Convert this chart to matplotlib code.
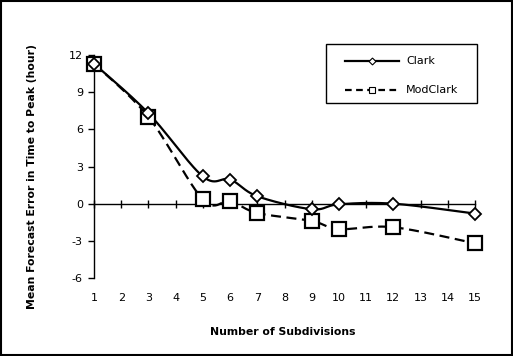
import numpy as np
import matplotlib
matplotlib.use('Agg')
import matplotlib.pyplot as plt
from matplotlib.lines import Line2D

# data
subdivisions = [1, 3, 5, 6, 7, 9, 10, 12, 15]
clark = [11.3, 7.3, 2.2, 1.95, 0.6, -0.45, -0.05, 0.0, -0.8]
modclark = [11.3, 7.0, 0.35, 0.2, -0.75, -1.4, -2.05, -1.9, -3.2]
yticks = [-6, -3, 0, 3, 6, 9, 12]
xticks = list(range(1, 16))
series_names = ['Clark', 'ModClark']


def smooth(xs, ys, n=30):
    # Excel-like smoothed line (bezier through the points)
    xs = np.asarray(xs, float)
    ys = np.asarray(ys, float)
    px = np.concatenate([[xs[0]], xs, [xs[-1]]])
    py = np.concatenate([[ys[0]], ys, [ys[-1]]])
    outx, outy = [], []
    t = np.linspace(0, 1, n)
    for i in range(1, len(px) - 2):
        p0 = np.array([px[i], py[i]])
        p3 = np.array([px[i + 1], py[i + 1]])
        p1 = p0 + (np.array([px[i + 1], py[i + 1]]) - np.array([px[i - 1], py[i - 1]])) / 6
        p2 = p3 - (np.array([px[i + 2], py[i + 2]]) - np.array([px[i], py[i]])) / 6
        b = ((1 - t) ** 3)[:, None] * p0 + (3 * (1 - t) ** 2 * t)[:, None] * p1 \
            + (3 * (1 - t) * t ** 2)[:, None] * p2 + (t ** 3)[:, None] * p3
        outx.extend(b[:, 0])
        outy.extend(b[:, 1])
    return outx, outy


W, H = 513, 356
plt.rcParams['font.family'] = ['DejaVu Sans']
plt.rcParams['axes.unicode_minus'] = False
fig = plt.figure(figsize=(W / 100, H / 100), dpi=100)

left, right, top, bottom = 94, 475, 55, 278
ax = fig.add_axes([left / W, 1 - bottom / H, (right - left) / W, (bottom - top) / H])
ax.set_xlim(1, 15)
ax.set_ylim(-6, 12)

sx, sy = smooth(subdivisions, clark)
ax.plot(sx, sy, color='black', lw=1.6, zorder=2, clip_on=False)
ax.plot(subdivisions, clark, ls='none', marker='D', ms=6.5, mfc='white', mec='black', mew=1.3,
        zorder=4, clip_on=False)

mx, my = smooth(subdivisions, modclark)
ax.plot(mx, my, color='black', lw=1.6, dashes=(4.5, 2.5), zorder=2, clip_on=False)
ax.plot(subdivisions, modclark, ls='none', marker='s', ms=9.5, mfc='white', mec='black', mew=1.6,
        zorder=3, clip_on=False)

for s in ['top', 'right']:
    ax.spines[s].set_visible(False)
ax.spines['bottom'].set_position(('data', 0))
ax.spines['bottom'].set_linewidth(1.0)
ax.spines['left'].set_linewidth(1.0)

ax.set_xticks(xticks)
ax.set_yticks(yticks)
ax.tick_params(axis='x', direction='inout', length=6, width=1, pad=61, labelsize=8)
ax.tick_params(axis='y', direction='out', length=4, width=1, pad=4, labelsize=8)
ax.patch.set_visible(False)

fig.text(283 / W, 1 - 332 / H, 'Number of Subdivisions', ha='center', va='center',
         fontsize=7.8, fontweight='bold')
fig.text(32 / W, 1 - 177 / H, 'Mean Forecast Error in Time to Peak (hour)', ha='center', va='center',
         rotation=90, fontsize=7.8, fontweight='bold')

# legend box drawn by hand to match the reference proportions
fig.patches.append(plt.Rectangle((326 / W, 1 - 103 / H), (477 - 326) / W, (103 - 44) / H,
                                 transform=fig.transFigure, fill=False, edgecolor='black', lw=1.0))
leg_rows = [61, 90]
styles = [dict(marker='D', ms=3.5, dashes=None), dict(marker='s', ms=4.5, dashes=(3, 2))]
for name, yy, st in zip(series_names, leg_rows, styles):
    ln = Line2D([345 / W, 372 / W, 399 / W], [1 - yy / H] * 3, transform=fig.transFigure,
                color='black', lw=1.6, mfc='white', mec='black', mew=0.8, markevery=[1],
                marker=st['marker'], ms=st['ms'])
    if st['dashes'] is not None:
        ln.set_dashes(st['dashes'])
    fig.lines.append(ln)
    fig.text(406 / W, 1 - yy / H, name, ha='left', va='center', fontsize=8)

# outer border around the chart
fig.patches.append(plt.Rectangle((0.002, 0.003), 0.996, 0.994, transform=fig.transFigure,
                                 fill=False, edgecolor='black', lw=1.5))

fig.savefig('out.png', dpi=100)
